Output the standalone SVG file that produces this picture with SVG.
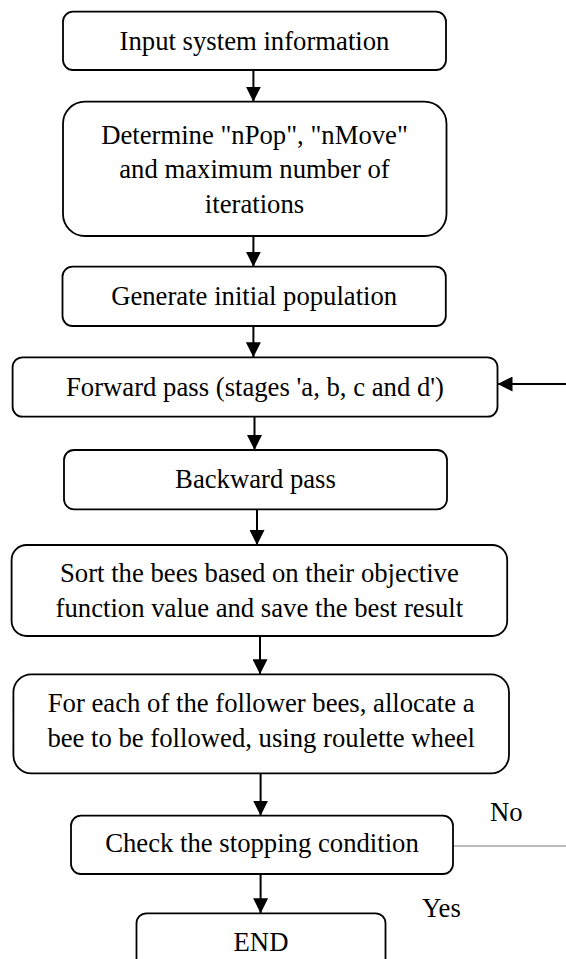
<svg xmlns="http://www.w3.org/2000/svg" width="566" height="959" viewBox="0 0 566 959">
  <style>
    .box { fill: #ffffff; stroke: #000000; stroke-width: 1.8; }
    .lbl { font-family: 'Liberation Serif', Tinos, 'Times New Roman', Times, serif; font-size: 26.7px; fill: #000000; text-anchor: middle; }
    .side { font-family: 'Liberation Serif', Tinos, 'Times New Roman', Times, serif; font-size: 26.7px; fill: #000000; }
    .arrow { stroke: #000000; stroke-width: 2; fill: none; marker-end: url(#ah); }
    .thin { stroke: #7a7a7a; stroke-width: 1.2; fill: none; }
  </style>
  <defs>
    <marker id="ah" markerUnits="userSpaceOnUse" markerWidth="15" markerHeight="15" refX="15" refY="7.5" orient="auto" viewBox="0 0 15 15">
      <path d="M0,0 L15,7.5 L0,15 z" fill="#000000"/>
    </marker>
  </defs>

  <rect width="566" height="959" fill="#ffffff"/>

  <g id="connectors">
    <line class="arrow" x1="253.4" y1="70" x2="253.4" y2="101.7"/>
    <line class="arrow" x1="253.4" y1="236" x2="253.4" y2="266.7"/>
    <line class="arrow" x1="253.4" y1="326" x2="253.4" y2="357.3"/>
    <line class="arrow" x1="254.5" y1="416.7" x2="254.5" y2="450"/>
    <line class="arrow" x1="257" y1="509.3" x2="257" y2="545"/>
    <line class="arrow" x1="260" y1="636" x2="260" y2="674.3"/>
    <line class="arrow" x1="260.6" y1="773.3" x2="260.6" y2="815.7"/>
    <line class="arrow" x1="260.6" y1="874" x2="260.6" y2="913.3"/>
    <line class="arrow" x1="566" y1="384" x2="497.5" y2="384"/>
    <line class="thin" x1="453" y1="846" x2="566" y2="846"/>
    <text class="side" x="490" y="821">No</text>
    <text class="side" x="422" y="917">Yes</text>
  </g>

  <g id="n1">
    <rect class="box" x="63" y="11.7" width="383" height="58.3" rx="10"/>
    <text class="lbl" x="254.5" y="49.5">Input system information</text>
  </g>
  <g id="n2">
    <rect class="box" x="63" y="101.7" width="383.5" height="134.3" rx="22"/>
    <text class="lbl" x="254.5" y="143.5">Determine "nPop", "nMove"</text>
    <text class="lbl" x="254.5" y="178">and maximum number of</text>
    <text class="lbl" x="254.5" y="212.5">iterations</text>
  </g>
  <g id="n3">
    <rect class="box" x="62.5" y="266.7" width="383.3" height="59.3" rx="10"/>
    <text class="lbl" x="254.2" y="304.5">Generate initial population</text>
  </g>
  <g id="n4">
    <rect class="box" x="12.6" y="357.3" width="484.9" height="59.4" rx="10"/>
    <text class="lbl" x="255" y="396">Forward pass (stages 'a, b, c and d')</text>
  </g>
  <g id="n5">
    <rect class="box" x="64" y="450" width="383" height="59.3" rx="10"/>
    <text class="lbl" x="255.5" y="488">Backward pass</text>
  </g>
  <g id="n6">
    <rect class="box" x="11.6" y="545" width="495.6" height="91" rx="15"/>
    <text class="lbl" x="259.4" y="581.7">Sort the bees based on their objective</text>
    <text class="lbl" x="259.4" y="617.3">function value and save the best result</text>
  </g>
  <g id="n7">
    <rect class="box" x="13.4" y="674.3" width="495.6" height="99" rx="18"/>
    <text class="lbl" x="261.2" y="711.7">For each of the follower bees, allocate a</text>
    <text class="lbl" x="261.2" y="746.7">bee to be followed, using roulette wheel</text>
  </g>
  <g id="n8">
    <rect class="box" x="71" y="815.7" width="382" height="58.3" rx="10"/>
    <text class="lbl" x="262" y="851.7">Check the stopping condition</text>
  </g>
  <g id="n9">
    <rect class="box" x="136.5" y="913.3" width="249" height="60" rx="10"/>
    <text class="lbl" x="261" y="950.7">END</text>
  </g>
</svg>
